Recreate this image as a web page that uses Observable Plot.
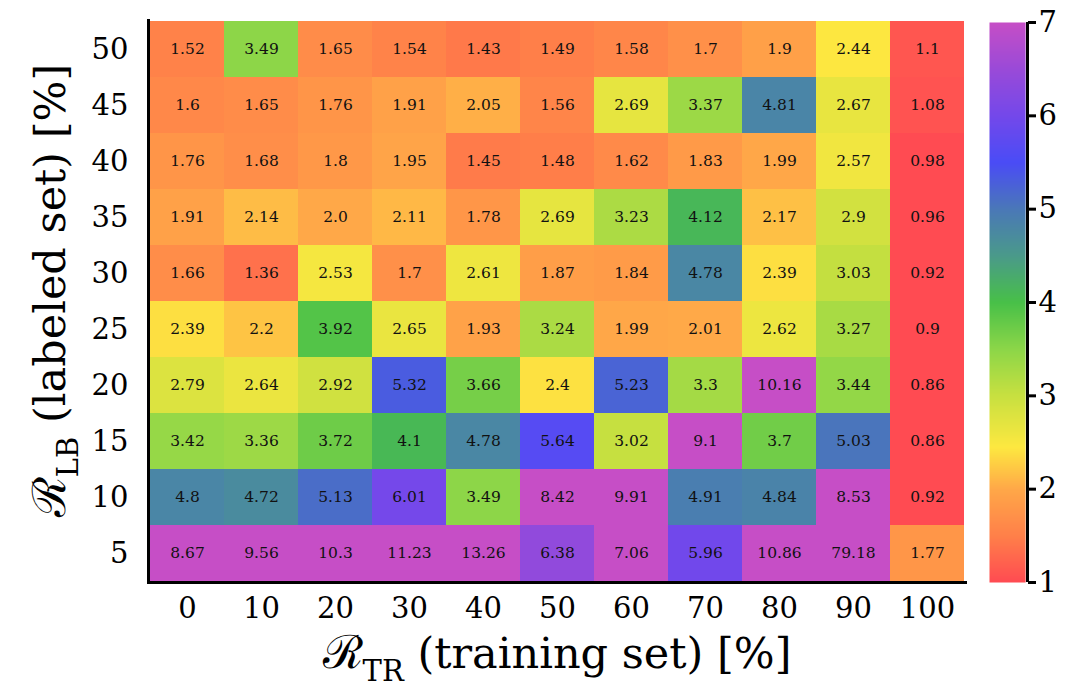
<!DOCTYPE html>
<html>
<head>
<meta charset="utf-8">
<script src="https://cdn.jsdelivr.net/npm/d3@7"></script>
<script src="https://cdn.jsdelivr.net/npm/@observablehq/plot@0.6"></script>
<style>
  body { margin: 0; background: #fff; }
  #wrap { position: relative; width: 1079px; height: 691px; overflow: hidden; }
  #wrap svg { position: absolute; top: 0; }
</style>
</head>
<body>
<div id="wrap"></div>
<script>
// R_TR (training set) [%] categories
const cols = [0, 10, 20, 30, 40, 50, 60, 70, 80, 90, 100];
// R_LB (labeled set) [%] categories, top to bottom
const rows = [50, 45, 40, 35, 30, 25, 20, 15, 10, 5];
// cell values, one array per row (same order as rows)
const row50 = [1.52, 3.49, 1.65, 1.54, 1.43, 1.49, 1.58, 1.7, 1.9, 2.44, 1.1];
const row45 = [1.6, 1.65, 1.76, 1.91, 2.05, 1.56, 2.69, 3.37, 4.81, 2.67, 1.08];
const row40 = [1.76, 1.68, 1.8, 1.95, 1.45, 1.48, 1.62, 1.83, 1.99, 2.57, 0.98];
const row35 = [1.91, 2.14, 2.0, 2.11, 1.78, 2.69, 3.23, 4.12, 2.17, 2.9, 0.96];
const row30 = [1.66, 1.36, 2.53, 1.7, 2.61, 1.87, 1.84, 4.78, 2.39, 3.03, 0.92];
const row25 = [2.39, 2.2, 3.92, 2.65, 1.93, 3.24, 1.99, 2.01, 2.62, 3.27, 0.9];
const row20 = [2.79, 2.64, 2.92, 5.32, 3.66, 2.4, 5.23, 3.3, 10.16, 3.44, 0.86];
const row15 = [3.42, 3.36, 3.72, 4.1, 4.78, 5.64, 3.02, 9.1, 3.7, 5.03, 0.86];
const row10 = [4.8, 4.72, 5.13, 6.01, 3.49, 8.42, 9.91, 4.91, 4.84, 8.53, 0.92];
const row5  = [8.67, 9.56, 10.3, 11.23, 13.26, 6.38, 7.06, 5.96, 10.86, 79.18, 1.77];
const rowValues = [row50, row45, row40, row35, row30, row25, row20, row15, row10, row5];
// colour bar ticks
const cbTicks = [1, 2, 3, 4, 5, 6, 7];
// colour map stops (value -> colour)
const cmapDomain = [1, 1.5, 2, 2.45, 3, 3.5, 4, 4.5, 5, 5.5, 6, 6.5, 7];
const cmapRange = ["#ff4b52", "#ff8049", "#ffa848", "#fde840", "#c8e040", "#8cd648", "#48c048",
                   "#4a9a8a", "#4a78b8", "#4a4cf6", "#7448ea", "#9a4ad8", "#c64ec6"];

const xTitle = ["ℛ", "TR", " (training set) [%]"];
const yTitle = ["ℛ", "LB", " (labeled set) [%]"];

const data = [];
rows.forEach((r, i) => cols.forEach((c, j) => data.push({tr: c, lb: r, v: rowValues[i][j]})));
const fmt = v => Number.isInteger(v) ? v.toFixed(1) : String(v);

const FONT = "DejaVu Serif, serif";
const colorScale = {type: "linear", domain: cmapDomain, range: cmapRange, clamp: true};

const main = Plot.plot({
  width: 1079, height: 691,
  marginLeft: 148, marginRight: 114, marginTop: 20, marginBottom: 109,
  style: {fontFamily: FONT, background: "transparent", color: "#000"},
  x: {type: "band", domain: cols, padding: 0},
  y: {type: "band", domain: rows, padding: 0},
  color: colorScale,
  marks: [
    Plot.cell(data, {x: "tr", y: "lb", fill: "v", inset: 0}),
    Plot.text(data, {x: "tr", y: "lb", text: d => fmt(d.v), fontSize: 15.5, fill: "#111"}),
    Plot.axisX({tickSize: 0, tickPadding: 15, fontSize: 29, label: null}),
    Plot.axisY({tickSize: 0, tickPadding: 20, fontSize: 29, label: null}),
    Plot.frame({anchor: "left", strokeWidth: 3, stroke: "#000"}),
    Plot.frame({anchor: "bottom", strokeWidth: 3, stroke: "#000"}),
    Plot.text([xTitle.join("")], {frameAnchor: "bottom", dy: 72, fontSize: 43, text: d => d, className: "xtitle", lineAnchor: "middle", textAnchor: "middle"}),
    Plot.text([yTitle.join("")], {frameAnchor: "left", dx: -97, dy: -11, rotate: -90, fontSize: 43, text: d => d, className: "ytitle", lineAnchor: "middle", textAnchor: "middle"})
  ]
});

const cbar = Plot.plot({
  width: 94, height: 691,
  marginLeft: 4, marginRight: 52, marginTop: 22, marginBottom: 109,
  style: {fontFamily: FONT, background: "transparent", color: "#000"},
  x: {domain: [0, 1], axis: null},
  y: {domain: [1, 7]},
  color: colorScale,
  marks: [
    Plot.raster({fill: (x, y) => y, x1: 0, x2: 0.95, y1: 1, y2: 7}),
    Plot.ruleX([1], {y1: 1, y2: 7, strokeWidth: 3, stroke: "#000"}),
    Plot.axisY(cbTicks, {anchor: "right", tickSize: 8, tickPadding: 3, fontSize: 29, strokeWidth: 3, label: null, tickFormat: d => String(d)})
  ]
});

const wrap = document.getElementById("wrap");
main.style.left = "0px";
cbar.style.left = "985px";
wrap.appendChild(main);
wrap.appendChild(cbar);

function styleTitle(cls, parts) {
  main.querySelectorAll("." + cls + " text").forEach(t => {
    t.textContent = "";
    const ns = "http://www.w3.org/2000/svg";
    const a = document.createElementNS(ns, "tspan");
    a.textContent = parts[0];
    a.setAttribute("font-size", "46");
    const b = document.createElementNS(ns, "tspan");
    b.textContent = parts[1];
    b.setAttribute("font-size", "29");
    b.setAttribute("dy", "13");
    const c = document.createElementNS(ns, "tspan");
    c.textContent = parts[2];
    c.setAttribute("dy", "-13");
    t.append(a, b, c);
  });
}
styleTitle("xtitle", xTitle);
styleTitle("ytitle", yTitle);
</script>
</body>
</html>
